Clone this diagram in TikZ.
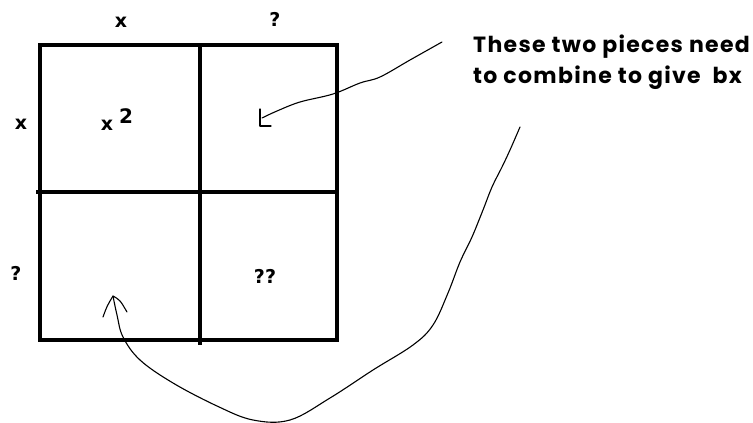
\documentclass[tikz,border=0pt]{standalone}
\usepackage{fontspec}
\setmainfont{DejaVu Sans}
\newfontfamily\notefont[LetterSpace=6]{Poppins}
\begin{document}
\begin{tikzpicture}[x=1pt,y=-1pt,
  gridline/.style={line width=4pt},
  handline/.style={line width=1.1pt,line join=round,line cap=round},
  lbl/.style={inner sep=0pt,font=\bfseries\fontsize{19}{19}\selectfont},
  note/.style={inner sep=0pt,anchor=base west,font=\notefont\bfseries\fontsize{22}{22}\selectfont}]
\useasboundingbox (0,0) rectangle (753,423);
% grid
\coordinate (tl) at (40,45);
\coordinate (br) at (337,340);
\draw[gridline] (tl) rectangle (br);
\coordinate (vt) at (200,45);
\coordinate (vb) at (200,345);
\coordinate (hl) at (36,192);
\coordinate (hr) at (337,192);
\draw[gridline] (vt) -- (vb);
\draw[gridline] (hl) -- (hr);
% labels
\node[lbl] (topx) at (121,22) {x};
\node[lbl] (topq) at (275,19) {?};
\node[lbl] (leftx) at (21,124) {x};
\node[lbl] (leftq) at (16,273) {?};
\node[lbl] (qq) at (265,276) {??};
\node[lbl] (xsq) at (107,125) {x};
\node[lbl,font=\bfseries\fontsize{20}{20}\selectfont] (two) at (126,116) {2};
% note
\node[note] (l1) at (473,52) {These two pieces need};
\node[note] (l2) at (473,83) {to combine to give\ \ bx};
% arrow 1
\coordinate (a1s) at (442,42);
\coordinate (a1e) at (262,118);
\draw[handline] plot[smooth,tension=0.6] coordinates {(a1s) (410,60) (380,77) (360,83) (333,94) (300,102) (277,111) (a1e)};
\draw[handline] (260,109) -- (260,126) -- (271,126);
% arrow 2
\coordinate (a2s) at (520,127);
\coordinate (a2e) at (113,296);
\draw[handline] plot[smooth,tension=0.6] coordinates {(a2s) (510,150) (502,167) (492,187) (483,210) (472,237) (460,262) (448,293) (433,325) (413,345) (373,370) (330,398) (290,420) (253,420) (217,406) (173,383) (140,360) (123,337) (117,315) (a2e)};
\draw[handline] (103,317) .. controls (107,306) .. (a2e) .. controls (120,300) .. (127,312);
\end{tikzpicture}
\end{document}
